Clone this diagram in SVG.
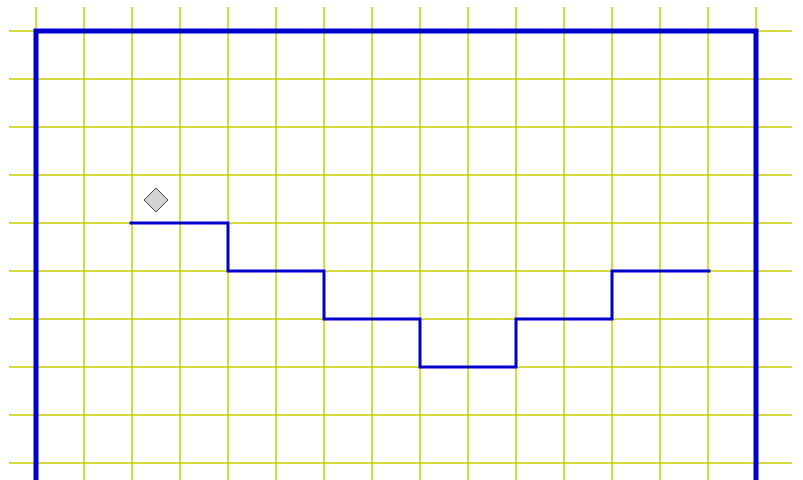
<svg xmlns="http://www.w3.org/2000/svg" width="803" height="480" viewBox="0 0 803 480">
<style>
.g{stroke:#cccc00;stroke-width:1.5;fill:none}
.b{stroke:#0000cc;fill:none;stroke-linecap:square}
</style>
<rect width="803" height="480" fill="#fff"/>
<g id="grid">
<path class="g" d="M36 7V480M84 7V480M132 7V480M180 7V480M228 7V480M276 7V480M324 7V480M372 7V480M420 7V480M468 7V480M516 7V480M564 7V480M612 7V480M660 7V480M708 7V480M756 7V480"/>
<path class="g" d="M9 31H792M9 79H792M9 127H792M9 175H792M9 223H792M9 271H792M9 319H792M9 367H792M9 415H792M9 463H792"/>
</g>
<g id="frame">
<path class="b" stroke-width="5" d="M36 480V31H756V480"/>
</g>
<g id="connectors">
<path class="b" stroke-width="3" stroke-linecap="butt" d="M131 223H228V271H324V319H420V367H516V319H612V271H709"/>
</g>
<g id="marker">
<polygon points="156,188 168,200 156,212 144,200" fill="#d3d3d3" stroke="#444" stroke-width="1"/>
</g>
</svg>
